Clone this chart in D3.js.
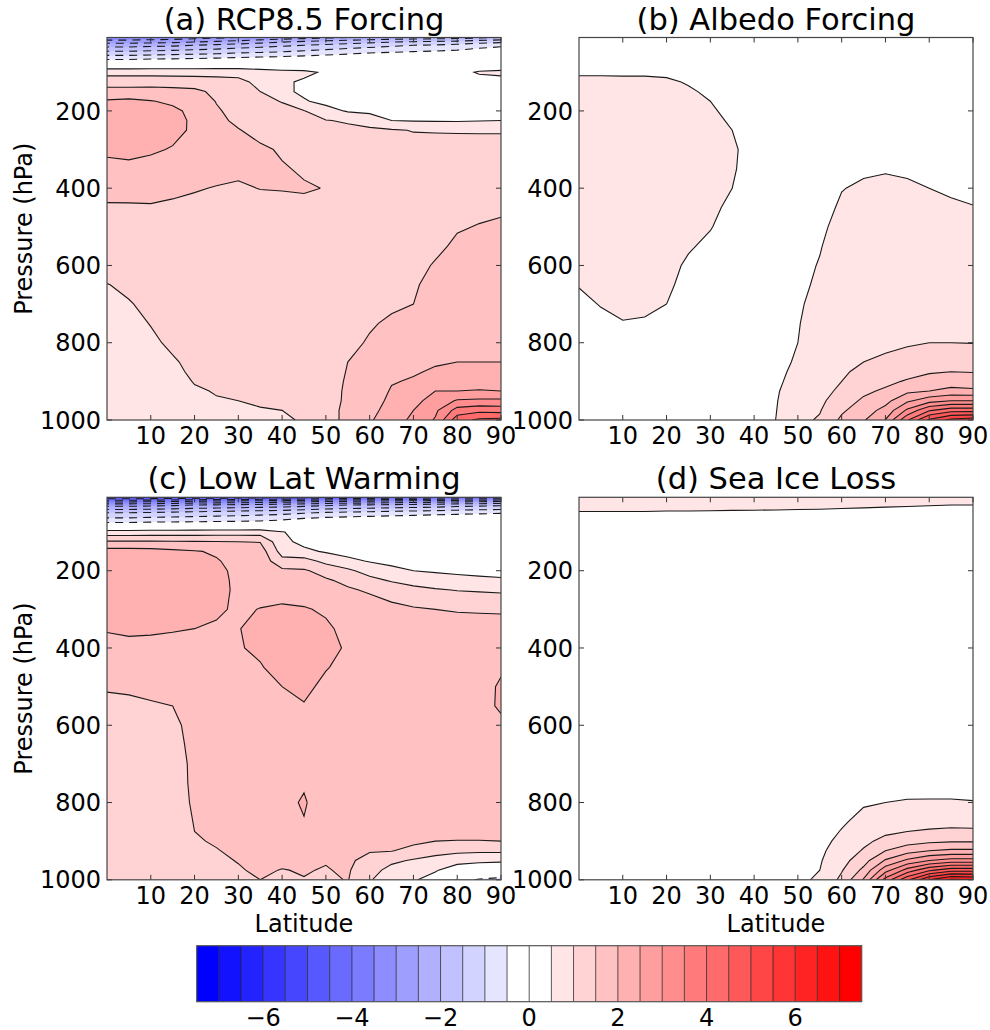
<!DOCTYPE html>
<html>
<head>
<meta charset="utf-8">
<script src="https://cdn.jsdelivr.net/npm/d3@7"></script>
<style>
  body { margin: 0; background: #fff; }
  svg text { font-family: "DejaVu Sans", sans-serif; fill: #000; }
</style>
</head>
<body>
<div id="chart"></div>
<script>
// grid coordinates
const lats = [0, 5, 10, 15, 20, 25, 30, 35, 40, 45, 50, 55, 60, 65, 70, 75, 80, 85, 90];
const pLevels = [10, 20, 30, 50, 70, 100, 125, 150, 175, 200, 225, 250, 300, 350, 400, 450, 500, 550, 600, 650, 700, 750, 800, 850, 875, 900, 925, 950, 975, 1000];

const latTicks = [10, 20, 30, 40, 50, 60, 70, 80, 90];
const pTicks = [200, 400, 600, 800, 1000];
const cbTicks = [-6, -4, -2, 0, 2, 4, 6];
const levels = [-7.5, -7, -6.5, -6, -5.5, -5, -4.5, -4, -3.5, -3, -2.5, -2, -1.5, -1, -0.5, 0,
                0.5, 1, 1.5, 2, 2.5, 3, 3.5, 4, 4.5, 5, 5.5, 6, 6.5, 7, 7.5];

// temperature change (K), one profile per latitude, top (10 hPa) to surface (1000 hPa)
const rcpCols = [
  [-3.4,-2.8,-2.2,-1.3,-0.35, 0.85,1.25,1.7,2.05,2.25, 2.3,2.3,2.1,1.85,1.65, 1.45,1.35,1.25,1.15,0.99, 0.95,0.9,0.85,0.82,0.8, 0.8,0.78,0.78,0.77,0.76],
  [-3.4,-2.8,-2.2,-1.3,-0.35, 0.85,1.25,1.7,2.1,2.3, 2.35,2.35,2.15,1.87,1.66, 1.45,1.36,1.27,1.18,1.06, 0.98,0.92,0.87,0.83,0.81, 0.8,0.79,0.78,0.77,0.76],
  [-3.35,-2.75,-2.15,-1.25,-0.3, 0.85,1.25,1.72,2.02,2.22, 2.3,2.28,2.06,1.85,1.66, 1.46,1.38,1.3,1.22,1.13, 1.07,1.01,0.95,0.9,0.88, 0.86,0.84,0.83,0.82,0.81],
  [-3.3,-2.7,-2.1,-1.2,-0.28, 0.84,1.24,1.68,1.93,2.08, 2.13,2.12,1.97,1.8,1.6, 1.42,1.38,1.33,1.26,1.2, 1.15,1.1,1.05,0.97,0.95, 0.93,0.91,0.9,0.89,0.88],
  [-3.2,-2.6,-2.0,-1.15,-0.25, 0.83,1.23,1.62,1.8,1.9, 1.93,1.93,1.85,1.72,1.53, 1.4,1.36,1.32,1.28,1.24, 1.2,1.16,1.12,1.07,1.04, 1.01,0.98,0.96,0.94,0.92],
  [-3.1,-2.5,-1.9,-1.1,-0.2, 0.82,1.2,1.38,1.48,1.55, 1.6,1.64,1.69,1.64,1.48, 1.38,1.35,1.32,1.3,1.27, 1.24,1.2,1.16,1.1,1.07, 1.04,1.01,0.99,0.97,0.95],
  [-3.0,-2.4,-1.8,-1.0,-0.15, 0.8,1.15,1.25,1.3,1.35, 1.42,1.52,1.62,1.58,1.45, 1.36,1.34,1.32,1.3,1.28, 1.26,1.22,1.18,1.12,1.09, 1.06,1.03,1.0,0.98,0.96],
  [-2.9,-2.25,-1.7,-0.95,-0.1, 0.7,0.85,1.0,1.12,1.22, 1.3,1.38,1.56,1.6,1.51, 1.36,1.33,1.32,1.31,1.3, 1.28,1.25,1.2,1.15,1.12, 1.09,1.06,1.02,0.99,0.96],
  [-2.8,-2.1,-1.6,-0.9,-0.05, 0.62,0.56,0.62,0.98,1.12, 1.2,1.28,1.46,1.53,1.52, 1.38,1.33,1.32,1.31,1.3, 1.29,1.27,1.23,1.18,1.15, 1.12,1.08,1.04,1.0,0.97],
  [-2.7,-2.0,-1.5,-0.8,0.0, 0.58,0.45,0.4,0.55,1.02, 1.15,1.25,1.4,1.46,1.53, 1.42,1.36,1.34,1.33,1.32, 1.31,1.3,1.28,1.24,1.21, 1.18,1.14,1.1,1.06,1.02],
  [-2.6,-1.9,-1.4,-0.7,0.05, 0.45,0.3,0.25,0.35,0.7, 1.02,1.15,1.33,1.42,1.49, 1.42,1.38,1.36,1.35,1.35, 1.36,1.37,1.38,1.4,1.41, 1.42,1.42,1.43,1.44,1.44],
  [-2.5,-1.8,-1.3,-0.6,0.08, 0.38,0.25,0.2,0.28,0.45, 0.95,1.1,1.3,1.38,1.42, 1.4,1.38,1.37,1.37,1.38, 1.4,1.42,1.45,1.5,1.51, 1.52,1.53,1.53,1.54,1.54],
  [-2.4,-1.7,-1.2,-0.5,0.1, 0.32,0.22,0.18,0.22,0.35, 0.88,1.05,1.25,1.33,1.38, 1.4,1.41,1.42,1.43,1.44, 1.46,1.48,1.52,1.58,1.62, 1.67,1.73,1.8,1.87,1.95],
  [-2.35,-1.6,-1.1,-0.45,0.12, 0.3,0.2,0.16,0.18,0.3, 0.5,1.05,1.2,1.3,1.35, 1.38,1.4,1.42,1.44,1.46, 1.47,1.53,1.65,1.8,1.88, 1.97,2.04,2.1,2.17,2.24],
  [-2.3,-1.55,-1.0,-0.4,0.14, 0.33,0.22,0.16,0.17,0.25, 0.47,0.98,1.18,1.28,1.33, 1.36,1.38,1.4,1.43,1.47, 1.5,1.6,1.7,1.88,1.96, 2.04,2.2,2.35,2.5,2.62],
  [-2.25,-1.5,-0.95,-0.35,0.15, 0.35,0.25,0.18,0.17,0.23, 0.46,0.97,1.18,1.28,1.33, 1.37,1.4,1.45,1.52,1.58, 1.64,1.72,1.82,1.96,2.05, 2.25,2.5,2.7,2.9,3.05],
  [-2.2,-1.45,-0.85,-0.3,0.17, 0.4,0.3,0.2,0.18,0.22, 0.45,0.96,1.2,1.3,1.36, 1.42,1.48,1.54,1.6,1.66, 1.72,1.8,1.88,2.0,2.2, 2.35,2.5,3.05,3.7,4.3],
  [-2.1,-1.3,-0.7,-0.2,0.2, 0.53,0.38,0.22,0.18,0.22, 0.48,0.95,1.22,1.32,1.38, 1.45,1.51,1.56,1.62,1.68, 1.74,1.82,1.9,2.0,2.2, 2.36,2.52,3.1,3.85,4.6],
  [-2.0,-1.2,-0.6,-0.1,0.2, 0.56,0.4,0.22,0.18,0.22, 0.5,0.95,1.23,1.33,1.4, 1.47,1.53,1.58,1.63,1.69, 1.75,1.83,1.91,2.0,2.2, 2.35,2.5,3.1,3.8,4.65]
];

const albedoCols = [
  [0.1,0.15,0.2,0.28,0.36, 0.46,0.57,0.62,0.65,0.67, 0.68,0.68,0.68,0.67,0.66, 0.64,0.62,0.6,0.57,0.51, 0.45,0.4,0.36,0.33,0.32, 0.31,0.3,0.3,0.29,0.29],
  [0.1,0.15,0.2,0.28,0.36, 0.46,0.57,0.62,0.65,0.67, 0.68,0.68,0.68,0.67,0.66, 0.64,0.62,0.6,0.58,0.55, 0.51,0.45,0.4,0.36,0.34, 0.33,0.32,0.31,0.3,0.3],
  [0.1,0.15,0.2,0.28,0.36, 0.46,0.56,0.61,0.64,0.66, 0.67,0.68,0.68,0.67,0.66, 0.65,0.63,0.62,0.6,0.58, 0.55,0.49,0.43,0.38,0.36, 0.34,0.33,0.32,0.31,0.3],
  [0.1,0.15,0.2,0.28,0.36, 0.46,0.56,0.6,0.63,0.65, 0.66,0.67,0.67,0.66,0.65, 0.64,0.62,0.61,0.59,0.57, 0.54,0.48,0.42,0.37,0.35, 0.33,0.32,0.31,0.3,0.29],
  [0.1,0.15,0.2,0.27,0.35, 0.45,0.54,0.59,0.62,0.64, 0.65,0.66,0.66,0.65,0.64, 0.62,0.6,0.58,0.56,0.54, 0.5,0.44,0.39,0.35,0.33, 0.31,0.3,0.29,0.28,0.27],
  [0.1,0.14,0.18,0.25,0.32, 0.4,0.48,0.53,0.56,0.59, 0.61,0.62,0.63,0.62,0.6, 0.58,0.56,0.52,0.47,0.43, 0.4,0.36,0.33,0.3,0.28, 0.27,0.26,0.25,0.24,0.23],
  [0.09,0.13,0.17,0.23,0.29, 0.36,0.41,0.46,0.5,0.53, 0.56,0.58,0.6,0.59,0.57, 0.54,0.51,0.46,0.42,0.38, 0.35,0.32,0.29,0.27,0.26, 0.25,0.24,0.23,0.22,0.22],
  [0.08,0.12,0.15,0.2,0.25, 0.3,0.34,0.38,0.41,0.44, 0.47,0.5,0.53,0.52,0.5, 0.46,0.42,0.38,0.35,0.32, 0.3,0.28,0.26,0.24,0.23, 0.22,0.21,0.2,0.2,0.2],
  [0.07,0.1,0.13,0.17,0.21, 0.25,0.28,0.31,0.33,0.35, 0.37,0.39,0.42,0.42,0.4, 0.38,0.36,0.34,0.32,0.3, 0.28,0.27,0.26,0.25,0.25, 0.25,0.25,0.25,0.26,0.27],
  [0.07,0.1,0.12,0.15,0.18, 0.2,0.22,0.24,0.26,0.27, 0.28,0.29,0.31,0.32,0.33, 0.34,0.35,0.36,0.37,0.38, 0.39,0.4,0.41,0.43,0.44, 0.45,0.47,0.48,0.49,0.505],
  [0.07,0.1,0.12,0.15,0.18, 0.21,0.23,0.25,0.27,0.29, 0.3,0.31,0.33,0.35,0.37, 0.39,0.41,0.43,0.45,0.46, 0.48,0.49,0.5,0.53,0.56, 0.6,0.65,0.72,0.8,0.88],
  [0.07,0.1,0.13,0.16,0.19, 0.22,0.24,0.26,0.28,0.3, 0.32,0.34,0.37,0.4,0.43, 0.45,0.47,0.49,0.51,0.53, 0.55,0.58,0.62,0.68,0.72, 0.77,0.83,0.9,0.97,1.05],
  [0.08,0.11,0.14,0.18,0.21, 0.24,0.26,0.28,0.3,0.33, 0.36,0.38,0.42,0.46,0.495, 0.52,0.55,0.58,0.61,0.64, 0.68,0.73,0.8,0.88,0.94, 1.0,1.1,1.25,1.42,1.6],
  [0.08,0.11,0.14,0.18,0.21, 0.24,0.27,0.29,0.31,0.34, 0.37,0.4,0.44,0.48,0.52, 0.56,0.6,0.64,0.68,0.72, 0.77,0.84,0.92,1.0,1.1, 1.22,1.4,1.58,1.78,1.95],
  [0.08,0.11,0.14,0.18,0.21, 0.25,0.28,0.3,0.33,0.36, 0.39,0.42,0.46,0.49,0.53, 0.57,0.61,0.65,0.7,0.75, 0.8,0.86,0.94,1.05,1.2, 1.38,1.58,1.85,2.15,2.52],
  [0.08,0.11,0.14,0.18,0.21, 0.25,0.28,0.3,0.33,0.36, 0.39,0.41,0.45,0.48,0.52, 0.56,0.6,0.65,0.7,0.76, 0.82,0.88,0.96,1.15,1.32, 1.55,1.9,2.4,3.1,3.95],
  [0.08,0.11,0.14,0.18,0.21, 0.25,0.27,0.29,0.32,0.34, 0.36,0.38,0.42,0.46,0.5, 0.55,0.6,0.65,0.7,0.76, 0.83,0.91,1.0,1.25,1.45, 1.7,2.0,2.8,3.95,5.1],
  [0.08,0.11,0.14,0.18,0.21, 0.24,0.26,0.28,0.3,0.32, 0.34,0.36,0.4,0.44,0.48, 0.52,0.57,0.62,0.68,0.74, 0.81,0.9,1.0,1.28,1.5, 1.75,2.15,3.0,4.3,5.65],
  [0.08,0.11,0.14,0.18,0.21, 0.24,0.26,0.28,0.3,0.32, 0.34,0.35,0.39,0.43,0.465, 0.505,0.55,0.6,0.66,0.72, 0.8,0.89,0.99,1.27,1.48, 1.72,2.1,3.0,4.3,5.8]
];

const lowLatCols = [
  [-5.0,-3.7,-2.7,-1.5,-0.75, 0.7,1.55,2.2,2.3,2.35, 2.35,2.35,2.22,2.05,1.8, 1.62,1.52,1.45,1.4,1.37, 1.35,1.33,1.31,1.29,1.28, 1.27,1.26,1.25,1.24,1.24],
  [-5.0,-3.7,-2.7,-1.5,-0.75, 0.7,1.55,2.2,2.33,2.38, 2.4,2.4,2.27,2.1,1.85, 1.64,1.53,1.46,1.42,1.39, 1.37,1.35,1.33,1.31,1.3, 1.29,1.28,1.27,1.26,1.25],
  [-4.95,-3.65,-2.65,-1.45,-0.7, 0.72,1.55,2.18,2.3,2.35, 2.37,2.37,2.25,2.08,1.84, 1.65,1.55,1.48,1.44,1.41, 1.39,1.37,1.35,1.33,1.32, 1.31,1.3,1.29,1.28,1.27],
  [-4.9,-3.6,-2.6,-1.4,-0.68, 0.72,1.54,2.1,2.22,2.27, 2.3,2.3,2.18,2.04,1.82, 1.66,1.56,1.5,1.46,1.44, 1.42,1.41,1.4,1.38,1.37, 1.36,1.35,1.34,1.33,1.32],
  [-4.85,-3.5,-2.5,-1.35,-0.65, 0.73,1.53,2.03,2.12,2.18, 2.2,2.2,2.12,2.0,1.82, 1.7,1.63,1.58,1.56,1.55, 1.54,1.54,1.53,1.51,1.5, 1.48,1.46,1.45,1.44,1.43],
  [-4.8,-3.45,-2.45,-1.3,-0.62, 0.74,1.52,1.95,2.03,2.08, 2.1,2.1,2.05,1.96,1.84, 1.74,1.68,1.65,1.63,1.62, 1.61,1.6,1.59,1.56,1.54, 1.52,1.49,1.46,1.44,1.42],
  [-4.75,-3.4,-2.4,-1.25,-0.6, 0.75,1.5,1.8,1.88,1.92, 1.93,1.94,1.95,1.99,1.98, 1.9,1.8,1.72,1.68,1.66, 1.64,1.63,1.62,1.6,1.58, 1.56,1.54,1.51,1.48,1.45],
  [-4.7,-3.35,-2.35,-1.2,-0.55, 0.75,1.48,1.75,1.82,1.85, 1.86,1.88,2.01,2.08,2.05, 1.98,1.88,1.8,1.74,1.71, 1.69,1.68,1.67,1.66,1.64, 1.62,1.6,1.57,1.54,1.5],
  [-4.65,-3.3,-2.3,-1.15,-0.45, 0.53,0.62,0.8,1.15,1.6, 1.8,1.9,2.04,2.15,2.15, 2.1,2.0,1.9,1.82,1.78, 1.77,1.8,1.86,1.84,1.78, 1.7,1.62,1.56,1.49,1.48],
  [-4.6,-3.2,-2.2,-1.05,-0.3, 0.3,0.38,0.6,1.2,1.55, 1.72,1.82,2.03,2.15,2.18, 2.15,2.08,1.98,1.9,1.86, 1.87,1.95,2.05,1.98,1.86, 1.74,1.64,1.56,1.52,1.49],
  [-4.5,-3.1,-2.1,-0.95,-0.2, 0.3,0.33,0.45,0.85,1.35, 1.55,1.7,1.95,2.06,2.1, 2.02,1.92,1.85,1.79,1.76, 1.74,1.72,1.71,1.68,1.65, 1.62,1.58,1.52,1.48,1.42],
  [-4.45,-3.05,-2.0,-0.9,-0.15, 0.28,0.3,0.36,0.6,1.1, 1.4,1.55,1.8,1.9,1.96, 1.9,1.84,1.8,1.77,1.75, 1.73,1.7,1.68,1.66,1.65, 1.63,1.61,1.58,1.55,1.52],
  [-4.4,-3.0,-1.95,-0.85,-0.1, 0.28,0.3,0.34,0.47,0.8, 1.15,1.45,1.7,1.78,1.8, 1.8,1.78,1.76,1.75,1.74, 1.73,1.72,1.7,1.66,1.62, 1.58,1.53,1.35,1.18,1.05],
  [-4.35,-2.9,-1.9,-0.8,-0.05, 0.28,0.3,0.33,0.4,0.6, 0.95,1.3,1.62,1.74,1.78, 1.8,1.8,1.8,1.79,1.78, 1.77,1.76,1.74,1.7,1.66, 1.6,1.52,1.1,0.85,0.65],
  [-4.3,-2.85,-1.85,-0.75,0.0, 0.28,0.3,0.32,0.37,0.5, 0.8,1.15,1.55,1.7,1.76, 1.79,1.8,1.81,1.81,1.8, 1.79,1.78,1.76,1.72,1.68, 1.6,1.35,0.95,0.7,0.55],
  [-4.2,-2.8,-1.8,-0.7,0.05, 0.28,0.3,0.32,0.35,0.45, 0.7,1.05,1.5,1.68,1.75, 1.78,1.8,1.82,1.83,1.83, 1.82,1.8,1.78,1.74,1.7, 1.5,1.15,0.85,0.55,0.3],
  [-4.15,-2.7,-1.7,-0.65,0.08, 0.28,0.3,0.32,0.34,0.42, 0.62,0.98,1.47,1.67,1.74, 1.78,1.81,1.84,1.86,1.86, 1.85,1.83,1.8,1.76,1.7, 1.48,1.1,0.7,0.2,-0.3],
  [-4.1,-2.65,-1.65,-0.6,0.1, 0.28,0.3,0.31,0.33,0.4, 0.58,0.95,1.46,1.66,1.74, 1.8,1.85,1.9,1.92,1.91, 1.89,1.86,1.82,1.77,1.7, 1.48,1.08,0.62,0.1,-0.55],
  [-4.0,-2.6,-1.6,-0.55,0.1, 0.28,0.3,0.31,0.33,0.38, 0.55,0.92,1.45,1.66,1.76, 1.95,2.05,2.04,1.94,1.9, 1.88,1.86,1.82,1.77,1.7, 1.5,1.08,0.6,0.0,-0.65]
];

const seaIceCols = [
  [0.8,0.7,0.6,0.48,0.38, 0.33,0.3,0.28,0.26,0.25, 0.24,0.23,0.22,0.21,0.2, 0.2,0.19,0.19,0.18,0.18, 0.17,0.17,0.16,0.16,0.16, 0.15,0.15,0.15,0.15,0.15],
  [0.8,0.7,0.6,0.48,0.38, 0.33,0.3,0.28,0.26,0.25, 0.24,0.23,0.22,0.21,0.2, 0.2,0.19,0.19,0.18,0.18, 0.17,0.17,0.16,0.16,0.16, 0.15,0.15,0.15,0.15,0.15],
  [0.8,0.7,0.6,0.48,0.38, 0.33,0.3,0.28,0.26,0.25, 0.24,0.23,0.22,0.21,0.2, 0.2,0.19,0.19,0.18,0.18, 0.17,0.17,0.16,0.16,0.16, 0.16,0.16,0.16,0.16,0.16],
  [0.8,0.7,0.6,0.48,0.38, 0.33,0.3,0.28,0.26,0.25, 0.24,0.23,0.22,0.21,0.2, 0.2,0.19,0.19,0.18,0.18, 0.17,0.17,0.17,0.17,0.17, 0.17,0.17,0.17,0.17,0.17],
  [0.8,0.7,0.6,0.47,0.38, 0.33,0.3,0.28,0.26,0.25, 0.24,0.23,0.22,0.21,0.2, 0.2,0.19,0.19,0.18,0.18, 0.18,0.18,0.18,0.18,0.18, 0.18,0.18,0.18,0.18,0.18],
  [0.8,0.7,0.6,0.47,0.38, 0.33,0.3,0.28,0.26,0.25, 0.24,0.23,0.22,0.21,0.2, 0.2,0.19,0.19,0.19,0.19, 0.19,0.19,0.19,0.19,0.19, 0.19,0.19,0.19,0.19,0.19],
  [0.8,0.69,0.59,0.47,0.37, 0.33,0.3,0.28,0.26,0.25, 0.24,0.23,0.22,0.21,0.2, 0.2,0.2,0.2,0.2,0.2, 0.2,0.2,0.2,0.2,0.2, 0.2,0.2,0.2,0.2,0.2],
  [0.8,0.69,0.59,0.46,0.37, 0.32,0.29,0.27,0.25,0.24, 0.23,0.22,0.21,0.21,0.2, 0.2,0.2,0.2,0.2,0.2, 0.2,0.2,0.2,0.2,0.2, 0.21,0.21,0.21,0.21,0.21],
  [0.8,0.68,0.58,0.46,0.37, 0.32,0.29,0.27,0.25,0.24, 0.23,0.22,0.21,0.2,0.2, 0.2,0.2,0.2,0.2,0.2, 0.2,0.2,0.21,0.21,0.22, 0.22,0.23,0.24,0.25,0.26],
  [0.8,0.68,0.57,0.46,0.37, 0.32,0.29,0.27,0.25,0.24, 0.23,0.22,0.21,0.2,0.2, 0.2,0.2,0.2,0.2,0.2, 0.2,0.21,0.21,0.22,0.23, 0.24,0.26,0.28,0.3,0.33],
  [0.8,0.68,0.57,0.45,0.37, 0.32,0.29,0.27,0.25,0.24, 0.23,0.22,0.21,0.2,0.2, 0.2,0.2,0.2,0.2,0.2, 0.2,0.21,0.22,0.24,0.26, 0.28,0.3,0.33,0.37,0.42],
  [0.81,0.67,0.56,0.45,0.36, 0.31,0.28,0.26,0.25,0.24, 0.23,0.22,0.21,0.2,0.2, 0.2,0.2,0.2,0.2,0.21, 0.21,0.22,0.25,0.3,0.34, 0.38,0.42,0.46,0.5,0.56],
  [0.82,0.66,0.55,0.44,0.36, 0.31,0.28,0.26,0.25,0.24, 0.23,0.22,0.21,0.2,0.2, 0.2,0.2,0.21,0.21,0.22, 0.24,0.28,0.35,0.45,0.52, 0.6,0.7,0.82,0.96,1.12],
  [0.84,0.65,0.54,0.43,0.35, 0.31,0.28,0.26,0.25,0.24, 0.23,0.22,0.21,0.2,0.2, 0.2,0.21,0.22,0.23,0.25, 0.28,0.35,0.46,0.62,0.74, 0.88,1.05,1.3,1.62,2.05],
  [0.86,0.64,0.53,0.42,0.35, 0.3,0.28,0.26,0.25,0.24, 0.23,0.22,0.21,0.2,0.2, 0.21,0.22,0.23,0.25,0.27, 0.3,0.38,0.5,0.72,0.9, 1.15,1.5,2.05,2.8,3.7],
  [0.87,0.63,0.52,0.41,0.34, 0.3,0.28,0.26,0.25,0.24, 0.23,0.22,0.21,0.21,0.21, 0.22,0.23,0.24,0.26,0.28, 0.31,0.4,0.52,0.8,1.0, 1.3,1.8,2.6,3.7,4.9],
  [0.88,0.63,0.51,0.41,0.34, 0.3,0.28,0.26,0.25,0.24, 0.23,0.22,0.21,0.21,0.21, 0.22,0.23,0.24,0.26,0.29, 0.32,0.41,0.52,0.85,1.05, 1.4,2.0,3.0,4.4,6.0],
  [0.89,0.62,0.5,0.4,0.34, 0.3,0.28,0.26,0.25,0.24, 0.23,0.22,0.21,0.21,0.21, 0.22,0.23,0.24,0.26,0.29, 0.32,0.41,0.52,0.87,1.08, 1.45,2.1,3.2,4.8,6.6],
  [0.9,0.62,0.5,0.4,0.34, 0.3,0.28,0.26,0.25,0.24, 0.23,0.22,0.21,0.21,0.21, 0.22,0.23,0.24,0.26,0.29, 0.32,0.41,0.51,0.86,1.07, 1.45,2.1,3.2,4.8,6.5]
];

const panels = [
  {title: "(a) RCP8.5 Forcing", cols: rcpCols,    left: 107, top: 37.5,  yLabel: true,  xLabel: false},
  {title: "(b) Albedo Forcing", cols: albedoCols, left: 579, top: 37.5,  yLabel: false, xLabel: false},
  {title: "(c) Low Lat Warming", cols: lowLatCols, left: 107, top: 497.3, yLabel: true,  xLabel: true},
  {title: "(d) Sea Ice Loss",   cols: seaIceCols, left: 579, top: 497.3, yLabel: false, xLabel: true}
];

const W = 990, H = 1030;
const pw = 394, ph = 382.5;

const svg = d3.select("#chart").append("svg")
    .attr("width", W)
    .attr("height", H);

const x = d3.scaleLinear().domain([0, 90]).range([0, pw]);
const y = d3.scaleLinear().domain([10, 1000]).range([0, ph]);

// d3.contours puts sample i at grid coord i + 0.5
const nx = lats.length, ny = pLevels.length;
const gxToLat = d3.scaleLinear().domain(lats.map((d, i) => i + 0.5)).range(lats).clamp(true);
const gyToP = d3.scaleLinear().domain(pLevels.map((d, i) => i + 0.5)).range(pLevels).clamp(true);

const proj = d3.geoTransform({
    point: function(gx, gy) { this.stream.point(x(gxToLat(gx)), y(gyToP(gy))); }
});
const fillPath = d3.geoPath(proj);
const contourGen = d3.contours().size([nx, ny]);

// blue-white-red, the two bands around zero left white
function bandColor(lo) {
    const i = Math.round((lo + 7.5) / 0.5);
    if (i === 14 || i === 15) return "#ffffff";
    const t = i / 29;
    const v = t < 0.5 ? Math.round(2 * t * 255) : Math.round(2 * (1 - t) * 255);
    return t < 0.5 ? d3.rgb(v, v, 255) : d3.rgb(255, v, v);
}

function onFrame(a, b) {
    const e = 0.01;
    return (Math.abs(a[0]) < e && Math.abs(b[0]) < e) ||
           (Math.abs(a[0] - pw) < e && Math.abs(b[0] - pw) < e) ||
           (Math.abs(a[1]) < e && Math.abs(b[1]) < e) ||
           (Math.abs(a[1] - ph) < e && Math.abs(b[1] - ph) < e);
}

// contour line path without the pieces running along the frame
function linePath(mp) {
    let d = "";
    mp.coordinates.forEach(poly => poly.forEach(ring => {
        const pts = ring.map(([gx, gy]) => [x(gxToLat(gx)), y(gyToP(gy))]);
        let pen = false;
        for (let k = 0; k < pts.length - 1; k++) {
            const a = pts[k], b = pts[k + 1];
            if (onFrame(a, b)) { pen = false; continue; }
            if (!pen) { d += "M" + a[0].toFixed(2) + "," + a[1].toFixed(2); pen = true; }
            d += "L" + b[0].toFixed(2) + "," + b[1].toFixed(2);
        }
    }));
    return d;
}

const minus = d => d < 0 ? "\u2212" + Math.abs(d) : String(d);

panels.forEach((p, idx) => {
    const g = svg.append("g").attr("transform", `translate(${p.left},${p.top})`);

    g.append("clipPath").attr("id", "clip" + idx)
        .append("rect").attr("width", pw).attr("height", ph);

    // grid values row-major: row = pressure level, column = latitude
    const grid = new Array(nx * ny);
    p.cols.forEach((col, i) => col.forEach((v, j) => { grid[j * nx + i] = v; }));

    const plot = g.append("g").attr("clip-path", `url(#clip${idx})`);

    // filled bands
    levels.slice(0, -1).forEach(lo => {
        plot.append("path")
            .attr("d", fillPath(contourGen.contour(grid, lo)))
            .attr("fill", bandColor(lo))
            .attr("stroke", "none");
    });

    // contour lines, negative dashed
    levels.filter(l => l !== 0).forEach(l => {
        const d = linePath(contourGen.contour(grid, l));
        if (!d) return;
        plot.append("path")
            .attr("d", d)
            .attr("fill", "none")
            .attr("stroke", "#1a1a1a")
            .attr("stroke-width", 1.1)
            .attr("stroke-dasharray", l < 0 ? "8,6" : null);
    });

    // inward ticks on all sides
    const tk = 5;
    latTicks.forEach(t => {
        g.append("line").attr("x1", x(t)).attr("x2", x(t)).attr("y1", ph).attr("y2", ph - tk)
            .attr("stroke", "#333");
        g.append("line").attr("x1", x(t)).attr("x2", x(t)).attr("y1", 0).attr("y2", tk)
            .attr("stroke", "#333");
        g.append("text")
            .attr("x", x(t)).attr("y", ph + 24)
            .attr("text-anchor", "middle")
            .style("font-size", "24px")
            .text(t);
    });
    pTicks.forEach(t => {
        g.append("line").attr("x1", 0).attr("x2", tk).attr("y1", y(t)).attr("y2", y(t))
            .attr("stroke", "#333");
        g.append("line").attr("x1", pw).attr("x2", pw - tk).attr("y1", y(t)).attr("y2", y(t))
            .attr("stroke", "#333");
        g.append("text")
            .attr("x", -6).attr("y", y(t)).attr("dy", "0.36em")
            .attr("text-anchor", "end")
            .style("font-size", "24px")
            .text(t);
    });

    g.append("rect")
        .attr("width", pw).attr("height", ph)
        .attr("fill", "none")
        .attr("stroke", "#444")
        .attr("stroke-width", 1.2);

    g.append("text")
        .attr("x", pw / 2).attr("y", -8)
        .attr("text-anchor", "middle")
        .style("font-size", "30.5px")
        .text(p.title);

    if (p.yLabel) {
        g.append("text")
            .attr("transform", `translate(${23 - p.left},${ph / 2}) rotate(-90)`)
            .attr("text-anchor", "middle")
            .attr("dy", "0.36em")
            .style("font-size", "24px")
            .text("Pressure (hPa)");
    }
    if (p.xLabel) {
        g.append("text")
            .attr("x", pw / 2).attr("y", ph + 52)
            .attr("text-anchor", "middle")
            .style("font-size", "24px")
            .text("Latitude");
    }
});

// colorbar
const cbX = d3.scaleLinear().domain([-7.5, 7.5]).range([196.7, 861.7]);
const cbTop = 945.7, cbH = 56;
const cb = svg.append("g");
levels.slice(0, -1).forEach(lo => {
    cb.append("rect")
        .attr("x", cbX(lo)).attr("y", cbTop)
        .attr("width", cbX(lo + 0.5) - cbX(lo)).attr("height", cbH)
        .attr("fill", bandColor(lo));
});
levels.slice(1, -1).forEach(l => {
    cb.append("line")
        .attr("x1", cbX(l)).attr("x2", cbX(l))
        .attr("y1", cbTop).attr("y2", cbTop + cbH)
        .attr("stroke", "#222").attr("stroke-opacity", 0.75).attr("stroke-width", 1);
});
cb.append("rect")
    .attr("x", cbX(-7.5)).attr("y", cbTop)
    .attr("width", cbX(7.5) - cbX(-7.5)).attr("height", cbH)
    .attr("fill", "none").attr("stroke", "#555").attr("stroke-width", 1.2);
cbTicks.forEach(t => {
    cb.append("text")
        .attr("x", cbX(t)).attr("y", 1025.5)
        .attr("text-anchor", "middle")
        .style("font-size", "24px")
        .text(minus(t));
});
</script>
</body>
</html>
